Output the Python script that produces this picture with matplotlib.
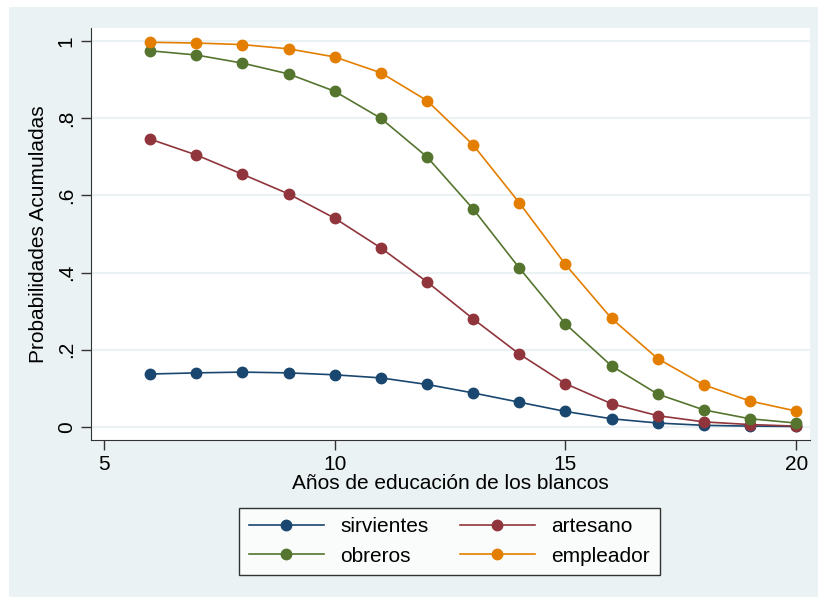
import numpy as np
import matplotlib.pyplot as plt

plt.rcParams['font.family'] = ['Liberation Sans', 'DejaVu Sans']

anios = [6, 7, 8, 9, 10, 11, 12, 13, 14, 15, 16, 17, 18, 19, 20]
sirvientes = [0.137, 0.140, 0.142, 0.140, 0.135, 0.127, 0.110, 0.088, 0.064, 0.040,
              0.021, 0.010, 0.004, 0.002, 0.001]
artesano = [0.746, 0.705, 0.655, 0.604, 0.541, 0.464, 0.376, 0.280, 0.189, 0.112,
            0.060, 0.029, 0.013, 0.006, 0.002]
obreros = [0.975, 0.964, 0.943, 0.915, 0.870, 0.800, 0.700, 0.565, 0.412, 0.267,
           0.158, 0.085, 0.044, 0.021, 0.010]
empleador = [0.997, 0.995, 0.991, 0.980, 0.959, 0.918, 0.846, 0.731, 0.581, 0.421,
             0.281, 0.177, 0.109, 0.067, 0.041]

series = [("sirvientes", sirvientes, "#1A476F"),
          ("artesano", artesano, "#90353B"),
          ("obreros", obreros, "#55752F"),
          ("empleador", empleador, "#E37E00")]

bg = "#EAF2F3"
fs = 15

fig = plt.figure(figsize=(8.18, 5.97), dpi=100)
fig.patch.set_facecolor("white")
# fondo gris-azulado estilo Stata
fig.patches.append(plt.Rectangle((9/818, 0), 1 - 9/818, 1 - 7/597, transform=fig.transFigure,
                                 facecolor=bg, edgecolor="none", zorder=-10))

ax = fig.add_axes([91/818, 157/597, 719/818, 412/597])
ax.set_facecolor("white")

for nombre, vals, col in series:
    ax.plot(anios, vals, color=col, lw=1.2, marker="o", ms=7.5, label=nombre)

ax.set_xlim(4.72, 20.3)
ax.set_ylim(-0.034, 1.034)
ax.set_xticks([5, 10, 15, 20])
ax.set_yticks([0, 0.2, 0.4, 0.6, 0.8, 1])
ax.set_yticklabels(["0", ".2", ".4", ".6", ".8", "1"], rotation=90, va="center")
ax.grid(axis="y", color=bg, lw=1.5)
ax.set_axisbelow(True)

for s in ["top", "right"]:
    ax.spines[s].set_visible(False)
ax.spines["left"].set_color("#333333")
ax.spines["bottom"].set_color("#333333")
ax.tick_params(axis="both", labelsize=fs, length=7, width=1, color="#333333", pad=4)

ax.set_xlabel("Años de educación de los blancos", fontsize=fs, labelpad=0)
ax.set_ylabel("Probabilidades Acumuladas", fontsize=fs, labelpad=6)

h, l = ax.get_legend_handles_labels()
# orden por filas: sirvientes, artesano / obreros, empleador
orden = [0, 2, 1, 3]
leg = fig.legend([h[i] for i in orden], [l[i] for i in orden], ncol=2,
                 loc="center", bbox_to_anchor=(449.5/818, 1 - 541.5/597),
                 fontsize=fs, frameon=True, fancybox=False, handlelength=3.6,
                 columnspacing=1.5, handletextpad=0.8, borderpad=0.45, labelspacing=0.5)
leg.get_frame().set_edgecolor("black")
leg.get_frame().set_linewidth(1)

fig.savefig("out.png", dpi=100, facecolor=fig.get_facecolor())
